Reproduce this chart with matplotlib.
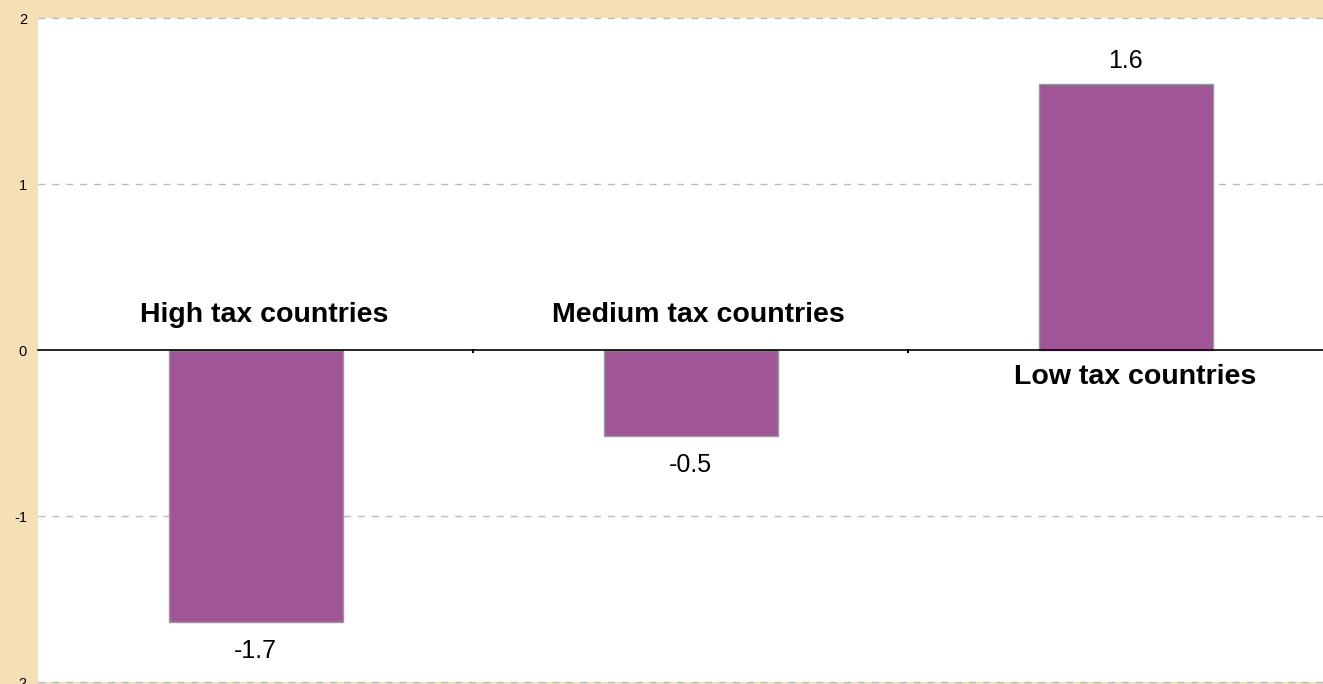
import matplotlib
matplotlib.use("Agg")
import matplotlib.pyplot as plt

categories = ["High tax countries", "Medium tax countries", "Low tax countries"]
values = [-1.64, -0.52, 1.6]
value_labels = ["-1.7", "-0.5", "1.6"]
yticks = [-2, -1, 0, 1, 2]

plt.rcParams['font.family'] = ['Liberation Sans', 'DejaVu Sans']

W, H = 1323, 684
fig = plt.figure(figsize=(W / 100, H / 100), dpi=100)
fig.patch.set_facecolor('#F5DFB4')
ax = fig.add_axes([38 / W, 2 / H, (1343 - 38) / W, (682 - 18) / H])
ax.set_facecolor('white')

x = list(range(len(categories)))
ax.bar(x, values, width=0.4, color='#A05596', edgecolor='#999999', linewidth=1, zorder=3)

ax.set_xlim(-0.5, 2.5)
ax.set_ylim(-2, 2)
for t in yticks:
    if t == 0:
        ax.axhline(0, color='black', lw=1.2, zorder=4, clip_on=False)
    else:
        ax.axhline(t, color='#BBBBBB', lw=1, ls=(0, (5, 5)), zorder=1, clip_on=False)

for s in ax.spines.values():
    s.set_visible(False)
ax.set_yticks(yticks)
ax.set_yticklabels([str(t) for t in yticks], fontsize=10.5)
ax.tick_params(axis='y', length=0, pad=8)
ax.set_xticks([0.5, 1.5])
ax.set_xticklabels([])
ax.tick_params(axis='x', length=0)
for b in [0.5, 1.5]:
    ax.plot([b, b], [0, -0.015], color='black', lw=1.5, zorder=5)

for xi, v, lab, cat in zip(x, values, value_labels, categories):
    if v < 0:
        ax.annotate(lab, (xi, v), xytext=(0, -12), textcoords='offset points',
                    ha='center', va='top', fontsize=18)
        ax.annotate(cat, (xi, 0), xytext=(6, 20), textcoords='offset points',
                    ha='center', va='baseline', fontsize=20.5, fontweight='bold')
    else:
        ax.annotate(lab, (xi, v), xytext=(0, 12), textcoords='offset points',
                    ha='center', va='baseline', fontsize=18)
        ax.annotate(cat, (xi, 0), xytext=(7, -10), textcoords='offset points',
                    ha='center', va='top', fontsize=20.5, fontweight='bold')

fig.savefig('out.png', dpi=100, facecolor=fig.get_facecolor())
